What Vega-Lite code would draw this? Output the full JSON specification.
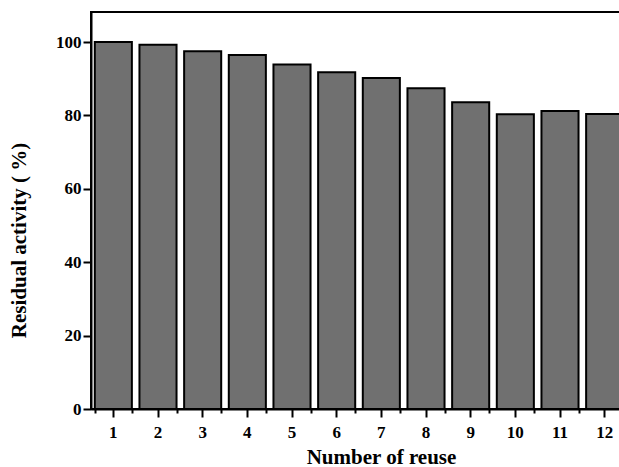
{
  "$schema": "https://vega.github.io/schema/vega-lite/v6.json",
  "autosize": "none",
  "padding": {"left": 91, "top": 12, "right": 0, "bottom": 58},
  "width": 536,
  "height": 397,
  "background": "white",
  "config": {
    "view": {"stroke": "black", "strokeWidth": 2},
    "font": "Liberation Serif"
  },
  "data": {
    "values": [
      {"reuse": 1, "activity": 100.0},
      {"reuse": 2, "activity": 99.3},
      {"reuse": 3, "activity": 97.5},
      {"reuse": 4, "activity": 96.5},
      {"reuse": 5, "activity": 93.9},
      {"reuse": 6, "activity": 91.8},
      {"reuse": 7, "activity": 90.2},
      {"reuse": 8, "activity": 87.4},
      {"reuse": 9, "activity": 83.6},
      {"reuse": 10, "activity": 80.3},
      {"reuse": 11, "activity": 81.2},
      {"reuse": 12, "activity": 80.4}
    ]
  },
  "layer": [
    {
      "mark": {"type": "bar", "fill": "#707070", "stroke": "black", "strokeWidth": 2},
      "encoding": {
        "x": {
          "field": "reuse", "type": "ordinal",
          "scale": {"paddingInner": 0.17, "paddingOuter": 0.085},
          "axis": {
            "title": "Number of reuse",
            "titleFont": "Liberation Serif", "titleFontWeight": "bold", "titleFontSize": 21, "titleColor": "black",
            "titleX": 290, "titleY": 37, "titleBaseline": "top", "titleAlign": "center",
            "labelFont": "Liberation Serif", "labelFontWeight": "bold", "labelFontSize": 17, "labelColor": "black",
            "labelAngle": 0, "labelPadding": 7,
            "tickSize": 8, "tickWidth": 2, "tickColor": "black",
            "domainColor": "black", "domainWidth": 2
          }
        },
        "y": {
          "field": "activity", "type": "quantitative",
          "scale": {"domain": [0, 108.2], "nice": false},
          "axis": {
            "title": "Residual activity ( %)",
            "titleFont": "Liberation Serif", "titleFontWeight": "bold", "titleFontSize": 21, "titleColor": "black",
            "titleX": -62, "titleY": 228, "titleAngle": -90, "titleBaseline": "bottom", "titleAlign": "center",
            "values": [0, 10, 20, 30, 40, 50, 60, 70, 80, 90, 100],
            "labelExpr": "datum.value % 20 === 0 ? datum.label : ''",
            "labelFont": "Liberation Serif", "labelFontWeight": "bold", "labelFontSize": 17, "labelColor": "black",
            "labelPadding": 2,
            "tickSize": {"condition": {"test": "datum.value % 20 === 0", "value": 8}, "value": 4},
            "tickWidth": 2, "tickColor": "black",
            "grid": false,
            "domainColor": "black", "domainWidth": 2
          }
        }
      }
    },
    {
      "mark": {"type": "bar", "opacity": 0},
      "encoding": {
        "x": {
          "field": "reuse", "type": "ordinal",
          "axis": {
            "orient": "bottom", "title": null, "labels": false,
            "tickBand": "extent", "tickSize": 4, "tickWidth": 2, "tickColor": "black",
            "domain": false
          }
        },
        "y": {"field": "activity", "type": "quantitative"}
      }
    }
  ],
  "resolve": {"axis": {"x": "independent"}}
}
